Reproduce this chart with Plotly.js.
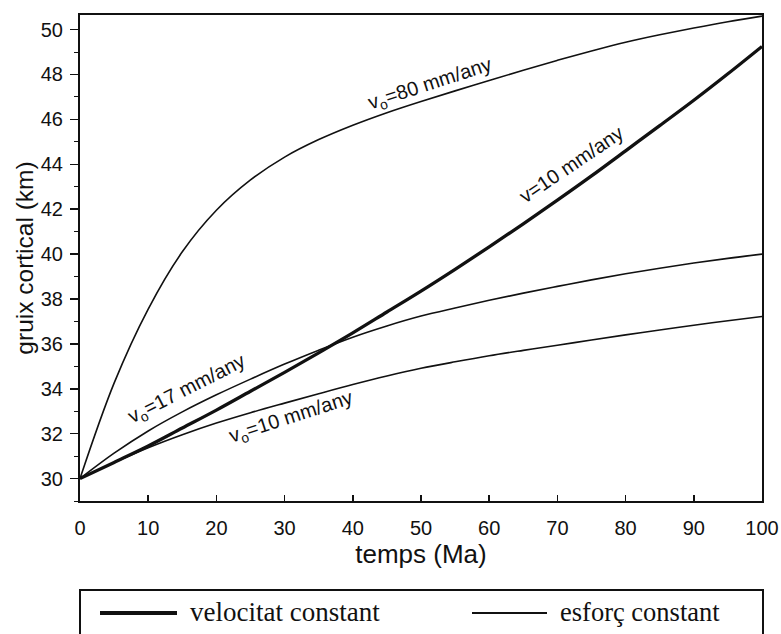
<!DOCTYPE html>
<html>
<head>
<meta charset="utf-8">
<script src="https://cdn.plot.ly/plotly-3.0.1.min.js"></script>
<style>html,body{margin:0;padding:0;background:#fff;}#chart{width:781px;height:634px;}</style>
</head>
<body>
<div id="chart"></div>
<script>
// time grid (Ma)
const tempsMa = [0, 5, 10, 15, 20, 25, 30, 35, 40, 45, 50, 55, 60, 65, 70, 75, 80, 85, 90, 95, 100];
// velocitat constant, v = 10 mm/any (thick)
const velConst10 = [30, 30.72, 31.45, 32.25, 33.05, 33.89, 34.73, 35.6, 36.49, 37.42, 38.35, 39.32, 40.32, 41.35, 42.4, 43.48, 44.6, 45.72, 46.85, 48.03, 49.25];
// esforç constant, v0 = 80 mm/any
const esf80 = [30, 34.25, 37.55, 40.1, 41.95, 43.3, 44.32, 45.1, 45.74, 46.3, 46.8, 47.27, 47.73, 48.19, 48.63, 49.05, 49.44, 49.77, 50.07, 50.35, 50.6];
// esforç constant, v0 = 17 mm/any
const esf17 = [30, 31.13, 32.12, 32.97, 33.73, 34.43, 35.1, 35.72, 36.3, 36.8, 37.24, 37.6, 37.94, 38.26, 38.56, 38.85, 39.12, 39.37, 39.6, 39.81, 40.0];
// esforç constant, v0 = 10 mm/any
const esf10 = [30, 30.71, 31.37, 31.95, 32.47, 32.93, 33.36, 33.78, 34.19, 34.57, 34.91, 35.2, 35.47, 35.71, 35.94, 36.17, 36.4, 36.62, 36.83, 37.03, 37.22];

const xTicks = [0, 10, 20, 30, 40, 50, 60, 70, 80, 90, 100];
const yTicks = [30, 32, 34, 36, 38, 40, 42, 44, 46, 48, 50];
const legendLabels = ['velocitat constant', 'esforç constant'];
const curveLabels = ['v<sub>o</sub>=80 mm/any', 'v=10 mm/any', 'v<sub>o</sub>=17 mm/any', 'v<sub>o</sub>=10 mm/any'];

const thin = {color: '#111', width: 1.6, shape: 'spline', smoothing: 1};
const thick = {color: '#111', width: 3.3, shape: 'spline', smoothing: 1};

const traces = [
  {x: tempsMa, y: esf80, mode: 'lines', line: thin, name: 'esforç constant', showlegend: false, hoverinfo: 'skip'},
  {x: tempsMa, y: esf17, mode: 'lines', line: thin, name: 'esforç constant', showlegend: false, hoverinfo: 'skip'},
  {x: tempsMa, y: esf10, mode: 'lines', line: thin, name: 'esforç constant', showlegend: false, hoverinfo: 'skip'},
  {x: tempsMa, y: velConst10, mode: 'lines', line: thick, name: 'velocitat constant', showlegend: false, hoverinfo: 'skip'}
];

// pixel geometry helpers (plot area 80..762 x 15..501)
const L = 80, R = 19, T = 15, B = 133, W = 781, H = 634;
const pw = W - L - R, ph = H - T - B;
const px = v => (v - L) / pw;
const py = v => (H - B - v) / ph;

const sans = 'Liberation Sans, Arial, Helvetica, sans-serif';
const serif = 'Liberation Serif, Times New Roman, serif';
const lblFont = {family: sans, size: 20, color: '#111'};

const layout = {
  width: W, height: H,
  margin: {l: L, r: R, t: T, b: B, pad: 0},
  paper_bgcolor: '#fff', plot_bgcolor: '#fff',
  showlegend: false,
  xaxis: {
    range: [0, 100], tickvals: xTicks, ticktext: xTicks.map(String),
    ticks: 'inside', ticklen: 6, tickwidth: 1.5, tickcolor: '#111',
    showline: true, linecolor: '#111', linewidth: 2, mirror: true,
    showgrid: false, zeroline: false,
    tickfont: {family: sans, size: 20, color: '#111'},
    ticklabelstandoff: 8,
    title: {text: 'temps (Ma)', font: {family: sans, size: 26, color: '#111'}, standoff: 0}
  },
  yaxis: {
    range: [29.0, 50.65], tickvals: yTicks, ticktext: yTicks.map(String),
    ticks: 'outside', ticklen: 8, tickwidth: 1.5, tickcolor: '#111',
    minor: {dtick: 1, tick0: 30, ticks: 'outside', ticklen: 4, tickwidth: 1, tickcolor: '#111'},
    showline: true, linecolor: '#111', linewidth: 2, mirror: true,
    showgrid: false, zeroline: false,
    tickfont: {family: sans, size: 20, color: '#111'},
    ticklabelstandoff: 3,
    title: {text: 'gruix cortical (km)', font: {family: sans, size: 24.5, color: '#111'}, standoff: 0}
  },
  annotations: [
    {x: 51.3, y: 47.55, xref: 'x', yref: 'y', text: curveLabels[0], showarrow: false, textangle: -18, font: lblFont},
    {x: 72.1, y: 44.0, xref: 'x', yref: 'y', text: curveLabels[1], showarrow: false, textangle: -34, font: lblFont},
    {x: 15.7, y: 33.95, xref: 'x', yref: 'y', text: curveLabels[2], showarrow: false, textangle: -27, font: lblFont},
    {x: 31.0, y: 32.72, xref: 'x', yref: 'y', text: curveLabels[3], showarrow: false, textangle: -18, font: lblFont},
    {x: px(188), y: py(612), xref: 'paper', yref: 'paper', xanchor: 'left', yanchor: 'middle', text: legendLabels[0], showarrow: false, font: {family: serif, size: 27, color: '#111'}},
    {x: px(558), y: py(612), xref: 'paper', yref: 'paper', xanchor: 'left', yanchor: 'middle', text: legendLabels[1], showarrow: false, font: {family: serif, size: 26.5, color: '#111'}}
  ],
  shapes: [
    {type: 'rect', xref: 'paper', yref: 'paper', x0: px(80), x1: px(763), y0: py(590), y1: py(700), line: {color: '#111', width: 2}, fillcolor: 'rgba(0,0,0,0)'},
    {type: 'line', xref: 'paper', yref: 'paper', x0: px(100), x1: px(177), y0: py(613), y1: py(613), line: {color: '#111', width: 4}},
    {type: 'line', xref: 'paper', yref: 'paper', x0: px(472), x1: px(547), y0: py(613), y1: py(613), line: {color: '#111', width: 2}}
  ]
};

Plotly.newPlot('chart', traces, layout, {staticPlot: true, displayModeBar: false});
</script>
</body>
</html>
